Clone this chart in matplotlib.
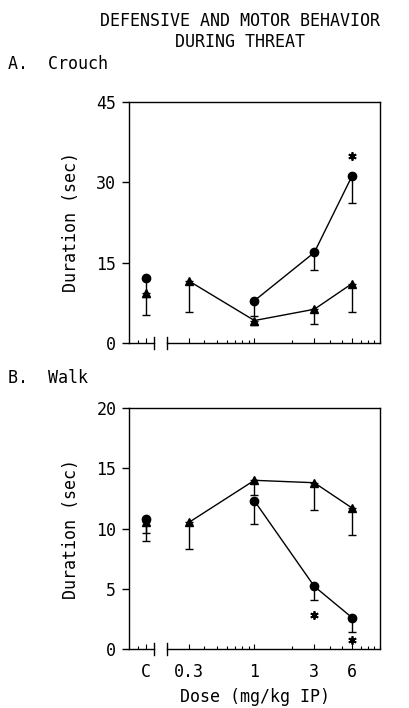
import matplotlib
matplotlib.use("Agg")
import matplotlib.pyplot as plt
from matplotlib.ticker import FixedLocator, NullFormatter

plt.rcParams['font.family'] = ['DejaVu Sans Mono', 'DejaVu Sans']

# ---- data ----
doses = [0.3, 1, 3, 6]
control_x = 0.137
dose_labels = ["C", "0.3", "1", "3", "6"]

# Crouch (panel A)
crouch_circ_ctrl = 12.2
crouch_circ_ctrl_err = 3.7
crouch_circ_x = [1, 3, 6]
crouch_circ = [7.9, 16.9, 31.2]
crouch_circ_err = [2.8, 3.2, 5.0]
crouch_tri_ctrl = 9.3
crouch_tri_ctrl_err = 4.0
crouch_tri = [11.6, 4.2, 6.3, 11.1]
crouch_tri_err = [5.8, 0.9, 2.8, 5.4]
crouch_star_x = [6]
crouch_star_y = [35.0]

# Walk (panel B)
walk_circ_ctrl = 10.8
walk_circ_ctrl_err = 1.2
walk_circ_x = [1, 3, 6]
walk_circ = [12.3, 5.2, 2.6]
walk_circ_err = [1.9, 1.1, 1.2]
walk_tri_ctrl = 10.5
walk_tri_ctrl_err = 1.5
walk_tri = [10.5, 14.0, 13.8, 11.7]
walk_tri_err = [2.2, 1.2, 2.3, 2.2]
walk_star_x = [3, 6]
walk_star_y = [2.8, 0.75]

fig = plt.figure(figsize=(4.09, 7.08), dpi=100)
axA = fig.add_axes([0.315, 0.5155, 0.614, 0.3405])
axB = fig.add_axes([0.315, 0.0833, 0.614, 0.3404])

FS = 12
lw = 1.0
ms_c = 6.0
ms_t = 6.0


def style(ax, ymax, yticks):
    ax.set_xscale('log')
    ax.set_xlim(0.1, 10)
    ax.set_ylim(0, ymax)
    ax.set_yticks(yticks)
    ax.tick_params(axis='y', direction='out', length=5, width=1, labelsize=FS, pad=4)
    ax.xaxis.set_major_locator(FixedLocator([control_x] + doses))
    ax.xaxis.set_minor_locator(FixedLocator([0.118, 0.2, 0.4, 0.5, 0.6, 0.7, 0.8, 0.9,
                                             2, 4, 5, 7, 8, 9, 10]))
    ax.xaxis.set_minor_formatter(NullFormatter())
    ax.tick_params(axis='x', which='major', direction='in', length=3.5, width=0.8,
                   labelsize=FS, pad=10)
    ax.tick_params(axis='x', which='minor', direction='in', length=2.5, width=0.8)
    ax.spines['bottom'].set_visible(False)
    for s in ['left', 'top', 'right']:
        ax.spines[s].set_linewidth(1.0)
    # broken bottom axis
    ax.plot([0.1, 0.16], [0, 0], color='black', lw=1.0, clip_on=False)
    ax.plot([0.2, 10], [0, 0], color='black', lw=1.0, clip_on=False)
    dy = ymax * 0.025
    for bx in (0.16, 0.2):
        ax.plot([bx, bx], [-dy, dy], color='black', lw=1.0, clip_on=False)
    ax.set_ylabel("Duration (sec)", fontsize=FS, labelpad=12)


def panel(ax, cc, cce, cx, cy, ce, tc, tce, ty, te, sx, sy):
    ax.errorbar([control_x], [tc], yerr=[[tce], [0]], fmt='^', color='black', ms=ms_t,
                capsize=3, elinewidth=1, capthick=1, zorder=3)
    ax.errorbar([control_x], [cc], yerr=[[cce], [0]], fmt='o', color='black', ms=ms_c,
                capsize=3, elinewidth=1, capthick=1, zorder=4)
    ax.errorbar(doses, ty, yerr=[te, [0] * len(te)], fmt='-^', color='black', ms=ms_t,
                lw=lw, capsize=3, elinewidth=1, capthick=1, zorder=3)
    ax.errorbar(cx, cy, yerr=[ce, [0] * len(ce)], fmt='-o', color='black', ms=ms_c,
                lw=lw, capsize=3, elinewidth=1, capthick=1, zorder=4)
    ax.plot(sx, sy, linestyle='none', marker=(6, 2, 0), ms=6, mew=1.3, color='black',
            zorder=5)


style(axA, 45, [0, 15, 30, 45])
panel(axA, crouch_circ_ctrl, crouch_circ_ctrl_err, crouch_circ_x, crouch_circ, crouch_circ_err,
      crouch_tri_ctrl, crouch_tri_ctrl_err, crouch_tri, crouch_tri_err,
      crouch_star_x, crouch_star_y)
axA.set_xticklabels([])

style(axB, 20, [0, 5, 10, 15, 20])
panel(axB, walk_circ_ctrl, walk_circ_ctrl_err, walk_circ_x, walk_circ, walk_circ_err,
      walk_tri_ctrl, walk_tri_ctrl_err, walk_tri, walk_tri_err,
      walk_star_x, walk_star_y)
axB.set_xticklabels(dose_labels)

fig.text(240 / 409, 1 - 21 / 708, "DEFENSIVE AND MOTOR BEHAVIOR", ha='center', va='center', fontsize=FS)
fig.text(240 / 409, 1 - 42 / 708, "DURING THREAT", ha='center', va='center', fontsize=FS)
fig.text(8 / 409, 1 - 64 / 708, "A.  Crouch", ha='left', va='center', fontsize=FS)
fig.text(8 / 409, 1 - 378 / 708, "B.  Walk", ha='left', va='center', fontsize=FS)
fig.text(255 / 409, 1 - 697 / 708, "Dose (mg/kg IP)", ha='center', va='center', fontsize=FS)

fig.savefig("out.png", dpi=100)
